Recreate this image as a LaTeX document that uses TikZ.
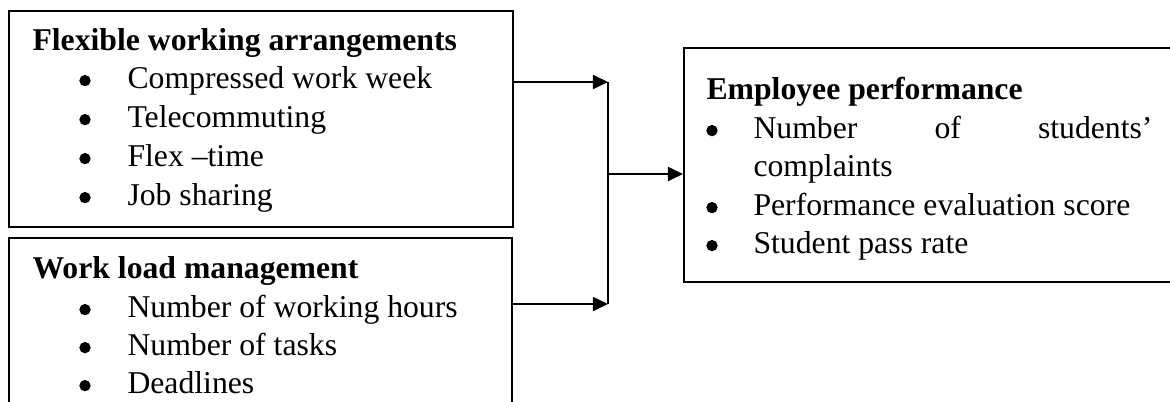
\documentclass[tikz,border=0pt]{standalone}
\usepackage{fontspec}
\setmainfont{Liberation Serif}
\usetikzlibrary{positioning,fit,arrows.meta}

\tikzset{
	box/.style={draw, line width=0.75pt, inner sep=0pt},
	head/.style={anchor=base west, inner sep=0pt, font=\fontsize{12}{14.7}\selectfont\bfseries},
	item/.style={anchor=base west, inner sep=0pt, font=\fontsize{12}{14.7}\selectfont},
	dot/.style={circle, fill, inner sep=0pt, minimum size=4.3pt, yshift=2.8pt},
	arr/.style={line width=0.7pt, -{Triangle[length=5.7pt,width=5.3pt]}}
}

\begin{document}
\begin{tikzpicture}[x=0.3785pt,y=-0.3785pt]
	\useasboundingbox (0,0) rectangle (1170,401);
	\clip (0,0) rectangle (1170,401);

	% the three boxes (two go past the page edge)
	\node[box, fit={(9,11) (513,227)}] (flex) {};
	\node[box, fit={(9,238) (512,440)}] (work) {};
	\node[box, fit={(684,48) (1220,282)}] (perf) {};

	% flexible working arrangements
	\node[head] (flexh) at (32,50) {Flexible working arrangements};
	\foreach \t/\y [count=\i] in {Compressed work week/88, Telecommuting/127, Flex --time/166, Job sharing/205} {
		\node[dot] (flexb\i) at (85,\y) {};
		\node[item] (flext\i) at (127,\y) {\t};
	}

	% work load management
	\node[head] (workh) at (32,278) {Work load management};
	\foreach \t/\y [count=\i] in {Number of working hours/317, Number of tasks/355, Deadlines/393} {
		\node[dot] (workb\i) at (85,\y) {};
		\node[item] (workt\i) at (127,\y) {\t};
	}

	% employee performance
	\node[head] (perfh) at (706,99) {Employee performance};
	\node[dot] (perfb1) at (712,138) {};
	\node[item] (perft1) at (753,138) {\makebox[151pt][s]{Number of students'}};
	\node[item] (perft1b) at (753,176) {complaints};
	\node[dot] (perfb2) at (712,215) {};
	\node[item] (perft2) at (753,215) {Performance evaluation score};
	\node[dot] (perfb3) at (712,253) {};
	\node[item] (perft3) at (753,253) {Student pass rate};

	% connectors
	\coordinate (jtop) at (608,82);
	\coordinate (jbot) at (608,304);
	\coordinate (jmid) at (608,174);
	\draw[arr] (flex.east |- jtop) -- (jtop);
	\draw[arr] (work.east |- jbot) -- (jbot);
	\draw[line width=0.5pt] (jtop) -- (jbot);
	\draw[arr] (jmid) -- (perf.west |- jmid);
\end{tikzpicture}
\end{document}
